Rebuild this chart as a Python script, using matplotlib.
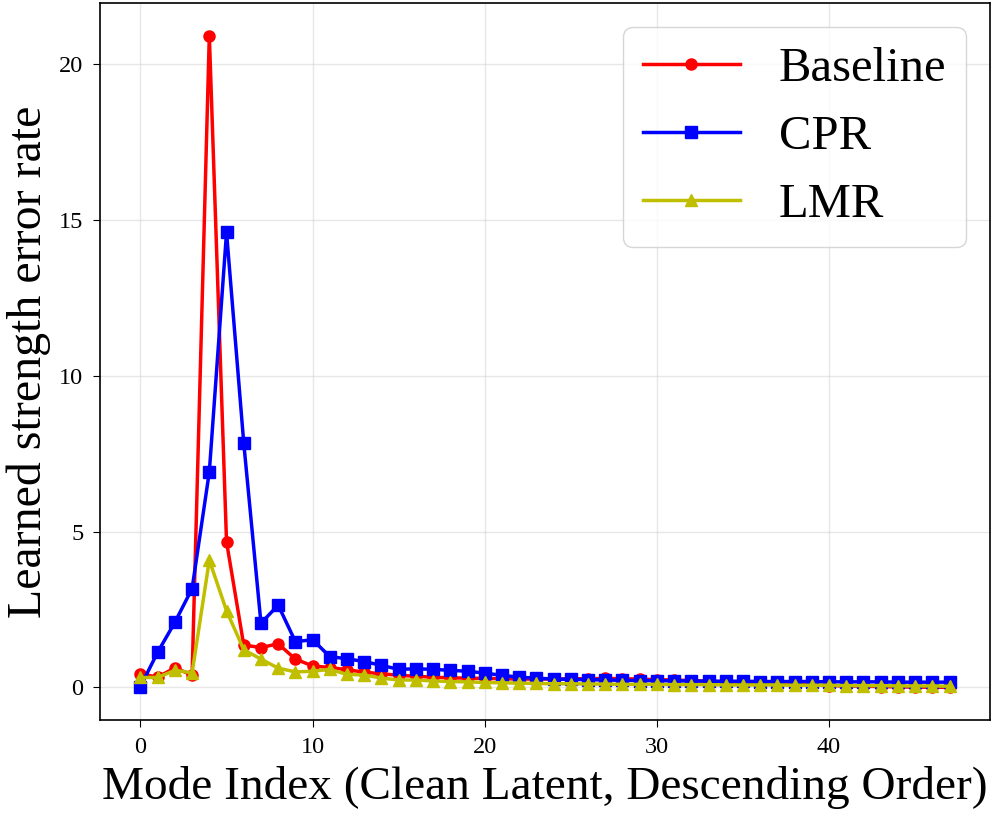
import numpy as np
import matplotlib
matplotlib.use("Agg")
import matplotlib.pyplot as plt

plt.rcParams['font.family'] = ['Liberation Serif', 'DejaVu Serif']

modes = np.arange(48)

baseline = [0.44, 0.33, 0.63, 0.40, 20.9, 4.67, 1.36, 1.28, 1.40, 0.91,
            0.69, 0.64, 0.57, 0.49, 0.44, 0.39, 0.36, 0.33, 0.31, 0.30,
            0.29, 0.28, 0.27, 0.27, 0.27, 0.28, 0.28, 0.29, 0.28, 0.27,
            0.25, 0.24, 0.22, 0.20, 0.18, 0.16, 0.14, 0.12, 0.10, 0.08,
            0.06, 0.05, 0.04, 0.03, 0.02, 0.01, 0.01, 0.00]
cpr = [0.03, 1.13, 2.09, 3.17, 6.91, 14.59, 7.84, 2.06, 2.64, 1.47,
       1.53, 0.99, 0.92, 0.83, 0.71, 0.58, 0.60, 0.58, 0.55, 0.52,
       0.46, 0.39, 0.33, 0.30, 0.27, 0.26, 0.25, 0.24, 0.23, 0.22,
       0.22, 0.21, 0.21, 0.20, 0.20, 0.20, 0.19, 0.19, 0.19, 0.19,
       0.18, 0.18, 0.18, 0.18, 0.17, 0.17, 0.17, 0.17]
lmr = [0.32, 0.32, 0.55, 0.47, 4.08, 2.46, 1.21, 0.91, 0.62, 0.50,
       0.52, 0.58, 0.42, 0.40, 0.30, 0.24, 0.24, 0.21, 0.19, 0.18,
       0.16, 0.15, 0.14, 0.13, 0.12, 0.12, 0.11, 0.11, 0.10, 0.10,
       0.10, 0.09, 0.09, 0.09, 0.08, 0.08, 0.08, 0.08, 0.07, 0.07,
       0.07, 0.06, 0.06, 0.06, 0.05, 0.05, 0.05, 0.04]

fig = plt.figure(figsize=(9.98, 8.22), dpi=100)
ax = fig.add_axes([0.1002, 0.124, 0.8918, 0.8724])

ax.plot(modes, baseline, 'r-o', lw=2.5, ms=8, label='Baseline')
ax.plot(modes, cpr, 'b-s', lw=2.5, ms=8, label='CPR')
ax.plot(modes, lmr, 'y-^', lw=2.5, ms=9, label='LMR')

ax.grid(True, color='#d0d0d0', alpha=0.5, lw=1)
ax.set_xticks([0, 10, 20, 30, 40])
ax.set_yticks([0, 5, 10, 15, 20])
ax.tick_params(labelsize=17.5, length=5, pad=7)
for s in ax.spines.values():
    s.set_linewidth(1.2)
ax.set_xlabel('Mode Index (Clean Latent, Descending Order)', fontsize=34, labelpad=6)
ax.set_ylabel('Learned strength error rate', fontsize=34.5, labelpad=6)
ax.legend(fontsize=35, loc='upper right')

fig.savefig('out.png', dpi=100)
